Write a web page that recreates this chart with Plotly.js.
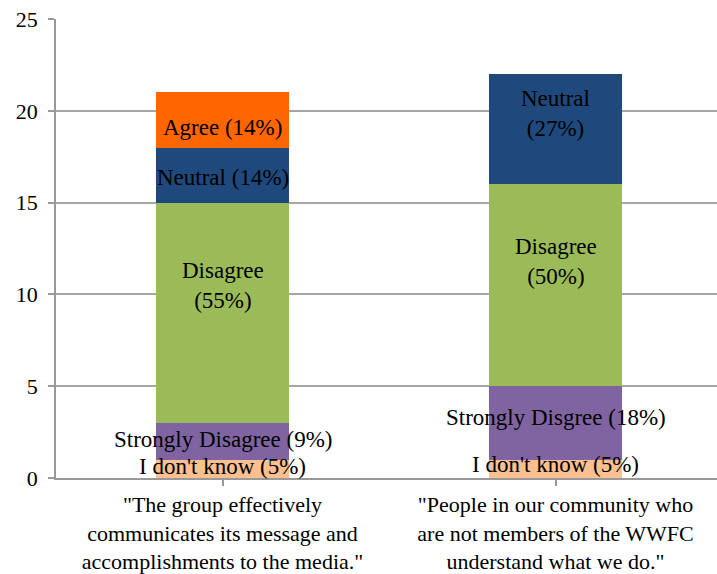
<!DOCTYPE html>
<html><head><meta charset="utf-8">
<script src="https://cdn.plot.ly/plotly-3.0.1.min.js"></script>
<style>html,body{margin:0;padding:0;background:#fff}#chart{width:717px;height:574px}</style>
</head><body><div id="chart"></div>
<script>
var categories = ['"The group effectively<br>communicates its message and<br>accomplishments to the media."', '"People in our community who<br>are not members of the WWFC<br>understand what we do."'];
var seriesNames = ["I don't know", "Strongly Disagree", "Disagree", "Neutral", "Agree"];
var colors = ["#FAC090", "#8064A2", "#9BBB59", "#1F497D", "#FF6600"];
var dontKnow = [1, 1];
var stronglyDisagree = [2, 4];
var disagree = [12, 11];
var neutral = [3, 6];
var agree = [3, 0];
var labelsDontKnow = ["I don't know (5%)", "I don't know (5%)"];
var labelsStrongly = ["Strongly Disagree (9%)", "Strongly Disgree (18%)"];
var labelsDisagree = ["Disagree<br>(55%)", "Disagree<br>(50%)"];
var labelsNeutral = ["Neutral (14%)", "Neutral<br>(27%)"];
var labelsAgree = ["Agree (14%)", ""];
var yTicks = [0, 5, 10, 15, 20, 25];

var FONT = 'Liberation Serif';
var series = [dontKnow, stronglyDisagree, disagree, neutral, agree];
var labels = [labelsDontKnow, labelsStrongly, labelsDisagree, labelsNeutral, labelsAgree];
var xs = [0, 1];

var traces = series.map(function (vals, i) {
  return {type: 'bar', x: xs, y: vals, name: seriesNames[i], width: 0.4,
    marker: {color: colors[i], line: {width: 0}}, hoverinfo: 'none'};
});

var annotations = [];
var cum = [0, 0];
// fine vertical nudges for label placement (pixels)
var shifts = [[2, 4], [2, 5], [27, 24], [-2, 16], [-8, 0]];
series.forEach(function (vals, i) {
  vals.forEach(function (v, j) {
    if (v > 0 && labels[i][j]) {
      annotations.push({x: xs[j], y: cum[j] + v / 2, xref: 'x', yref: 'y', text: labels[i][j],
        showarrow: false, yshift: shifts[i][j],
        font: {family: FONT, size: 23, color: '#000000'}});
    }
    cum[j] += v;
  });
});

var layout = {
  width: 717, height: 574,
  margin: {l: 56, r: 0, t: 19, b: 96},
  barmode: 'stack', showlegend: false,
  paper_bgcolor: '#fff', plot_bgcolor: '#fff',
  font: {family: FONT, size: 22, color: '#000000'},
  xaxis: {range: [-0.5, 1.485], tickvals: xs, ticktext: categories, tickson: 'boundaries',
    ticks: 'outside', ticklen: 6, tickcolor: '#999', tickwidth: 1.5,
    showline: true, linecolor: '#999', linewidth: 1.5, showgrid: false, zeroline: false,
    tickfont: {family: FONT, size: 22, color: '#000000'}},
  yaxis: {range: [0, 25], tickvals: yTicks, ticks: 'outside', ticklen: 6, tickcolor: '#999', tickwidth: 1.5,
    showline: true, linecolor: '#999', linewidth: 1.5, showgrid: true, gridcolor: '#a6a6a6', gridwidth: 1.5,
    zeroline: false, tickfont: {family: FONT, size: 22, color: '#000000'}, ticklabelstandoff: 6},
  annotations: annotations
};
Plotly.newPlot('chart', traces, layout, {displayModeBar: false});
</script></body></html>
